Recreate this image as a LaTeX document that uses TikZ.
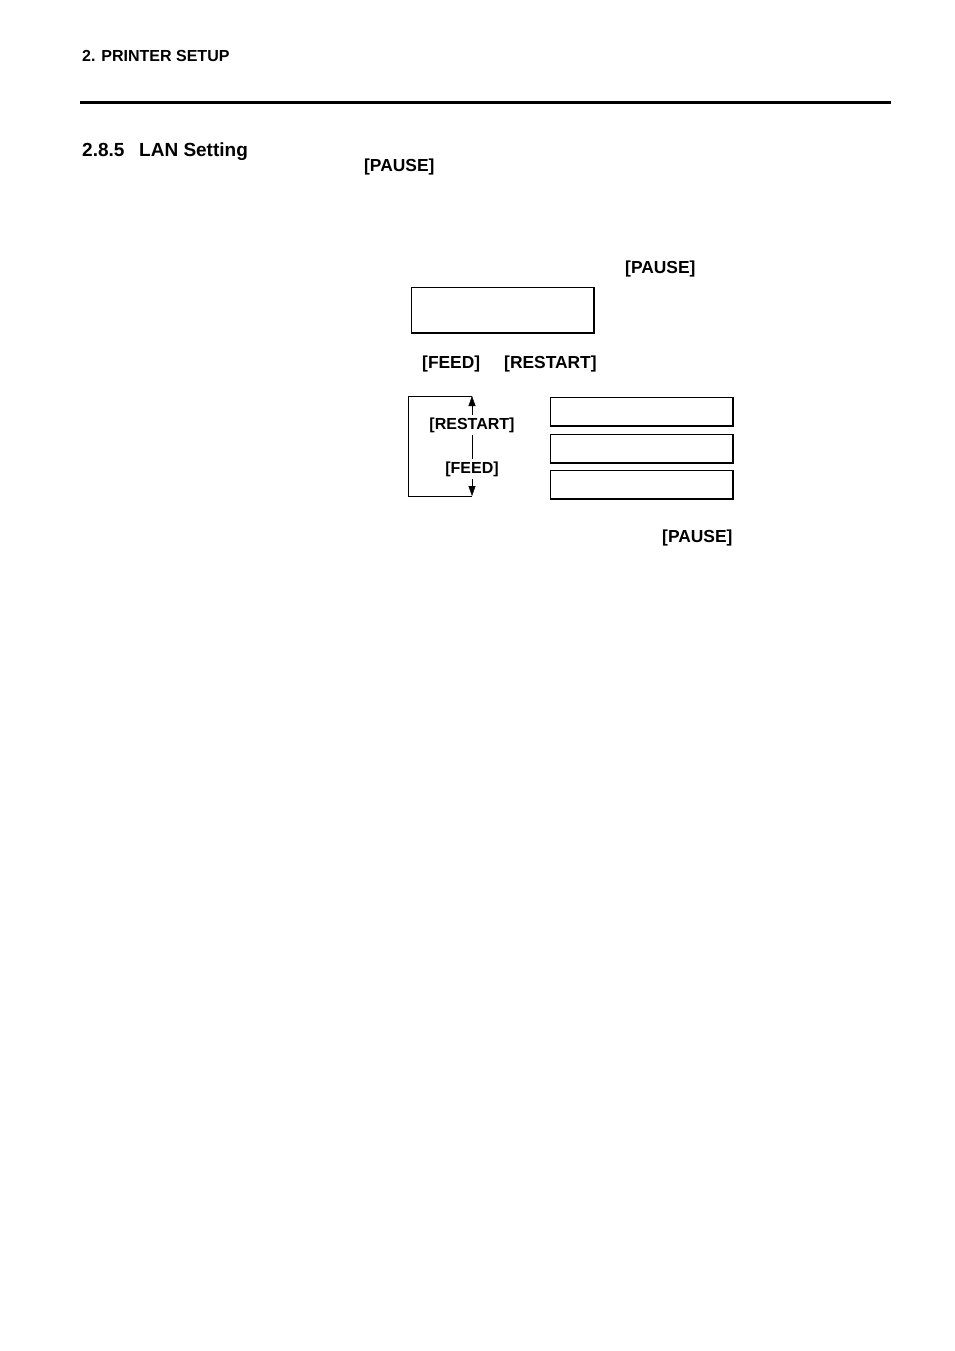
\documentclass[tikz,border=0pt]{standalone}
\usepackage{fontspec}
\setmainfont{Liberation Sans}
\usetikzlibrary{arrows.meta}

\tikzset{
	key/.style={font=\bfseries\fontsize{17.4}{20}\selectfont, inner sep=0pt, anchor=west},
	smallkey/.style={font=\bfseries\fontsize{16}{19}\selectfont, inner sep=0pt, outer sep=3pt},
	lcd/.style={draw, line width=1pt, anchor=north west, minimum width=182pt, minimum height=28pt, inner sep=0pt},
	tip/.style={-{Triangle[width=7pt,length=10pt]}}
}

\begin{document}
\begin{tikzpicture}[x=1pt,y=-1pt]
\useasboundingbox (0,0) rectangle (954,1351);

% page header
\node[font=\bfseries\fontsize{16}{19}\selectfont, inner sep=0pt, anchor=base west] (chap) at (82,62) {2. PRINTER SETUP};
\draw[line width=3pt] (80,103) -- (891,103);
\node[font=\bfseries\fontsize{19}{23}\selectfont, inner sep=0pt, anchor=base west] (secnum) at (82,157) {2.8.5};
\node[font=\bfseries\fontsize{19}{23}\selectfont, inner sep=0pt, anchor=base west] (sectitle) at (139,157) {LAN Setting};

\node[key] (pause1) at (364,167) {[PAUSE]};
\node[key] (pause2) at (625,269) {[PAUSE]};

% display
\node[lcd, minimum height=45pt] (disp) at (411,287) {};

\node[key] (feedkey) at (422,364) {[FEED]};
\node[key] (restartkey) at (504,364) {[RESTART]};

% scroll loop
\node[smallkey] (up) at (472,425) {[RESTART]};
\node[smallkey] (down) at (472,469) {[FEED]};
\coordinate (top) at (472,396);
\coordinate (bot) at (472,496);
\draw[tip] (up) -- (top);
\draw (up) -- (down);
\draw[tip] (down) -- (bot);
\draw (top) -- ++(-64,0) |- (bot);

\node[lcd] (menu1) at (550,397) {};
\node[lcd] (menu2) at (550,434) {};
\node[lcd] (menu3) at (550,470) {};

\foreach \b in {disp,menu1,menu2,menu3}
	\draw[line width=1.8pt] (\b.north east) -- (\b.south east) -- (\b.south west);

\node[key] (pause3) at (662,538) {[PAUSE]};
\end{tikzpicture}
\end{document}
